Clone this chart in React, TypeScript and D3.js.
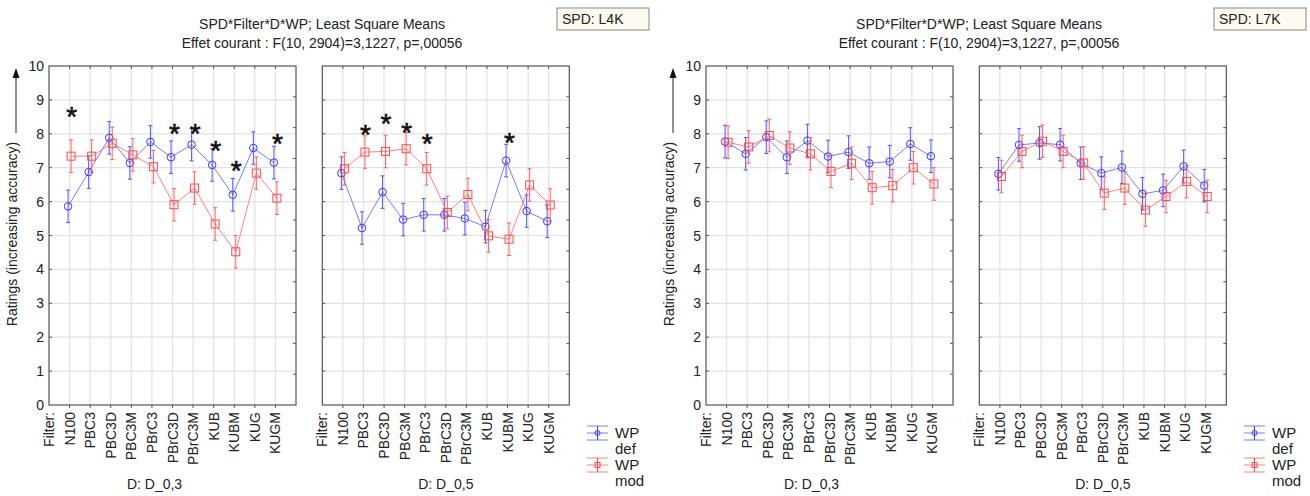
import React from 'react';
import * as d3 from 'd3';

// categories on the x axis
const FILTERS = ['N100', 'PBC3', 'PBC3D', 'PBC3M', 'PBrC3', 'PBrC3D', 'PBrC3M', 'KUB', 'KUBM', 'KUG', 'KUGM'];
const Y_TICKS = [0, 1, 2, 3, 4, 5, 6, 7, 8, 9, 10];

// least square means, SPD: L4K
const L4K_D03_DEF = [5.86, 6.87, 7.88, 7.14, 7.76, 7.31, 7.68, 7.08, 6.2, 7.58, 7.15];
const L4K_D03_MOD = [7.34, 7.34, 7.72, 7.38, 7.03, 5.91, 6.4, 5.34, 4.52, 6.84, 6.1];
const L4K_D05_DEF = [6.84, 5.22, 6.28, 5.47, 5.61, 5.61, 5.5, 5.26, 7.21, 5.72, 5.42];
const L4K_D05_MOD = [6.97, 7.46, 7.48, 7.56, 6.97, 5.68, 6.21, 4.99, 4.89, 6.49, 5.9];

// least square means, SPD: L7K
const L7K_D03_DEF = [7.77, 7.41, 7.9, 7.31, 7.8, 7.33, 7.46, 7.13, 7.18, 7.7, 7.34];
const L7K_D03_MOD = [7.75, 7.61, 7.95, 7.58, 7.41, 6.89, 7.13, 6.41, 6.47, 7.0, 6.52];
const L7K_D05_DEF = [6.82, 7.67, 7.73, 7.68, 7.13, 6.84, 7.01, 6.23, 6.33, 7.04, 6.47];
const L7K_D05_MOD = [6.74, 7.48, 7.78, 7.48, 7.14, 6.25, 6.4, 5.75, 6.15, 6.59, 6.15];

// half-width of the error bars (same for every point)
const ERR = 0.48;

// significance stars: [filter, level]
const L4K_D03_STARS: [string, number][] = [['N100', 8.7], ['PBrC3D', 8.2], ['PBrC3M', 8.2], ['KUB', 7.7], ['KUBM', 7.1], ['KUGM', 7.9]];
const L4K_D05_STARS: [string, number][] = [['PBC3', 8.18], ['PBC3D', 8.49], ['PBC3M', 8.23], ['PBrC3', 7.9], ['KUBM', 7.94]];

const FONT = '"Liberation Sans", Arial, sans-serif';
const FS = 14;
const TOP = 66;
const BOTTOM = 405;
const PW = 247;

const BLUE_LINE = '#7a7aff';
const BLUE = '#3a3aff';
const RED_LINE = '#ff8080';
const RED = '#ff4a4a';

const y = d3.scaleLinear().domain([0, 10]).range([BOTTOM, TOP]);

const Series: React.FC<{ x: d3.ScalePoint<string>; vals: number[]; kind: 'def' | 'mod' }> = ({ x, vals, kind }) => {
  const dx = kind === 'def' ? -1.5 : 1.5;
  const lineColor = kind === 'def' ? BLUE_LINE : RED_LINE;
  const col = kind === 'def' ? BLUE : RED;
  const line = d3.line<number>()
    .x((_, i) => (x(FILTERS[i]) as number) + dx)
    .y(d => y(d));
  return (
    <g>
      <path d={line(vals) || ''} fill="none" stroke={lineColor} strokeWidth={1} />
      {vals.map((v, i) => {
        const cx = (x(FILTERS[i]) as number) + dx;
        return (
          <g key={i}>
            <line x1={cx} x2={cx} y1={y(v + ERR)} y2={y(v - ERR)} stroke={col} strokeWidth={1} opacity={0.85} />
            <line x1={cx - 2} x2={cx + 2} y1={y(v + ERR)} y2={y(v + ERR)} stroke={col} opacity={0.85} />
            <line x1={cx - 2} x2={cx + 2} y1={y(v - ERR)} y2={y(v - ERR)} stroke={col} opacity={0.85} />
            {kind === 'def'
              ? <circle cx={cx} cy={y(v)} r={3.8} fill="none" stroke={col} strokeWidth={1} />
              : <rect x={cx - 4} y={y(v) - 4} width={8} height={8} fill="none" stroke={col} strokeWidth={1} />}
          </g>
        );
      })}
    </g>
  );
};

const Panel: React.FC<{ left: number; def: number[]; mod: number[]; stars: [string, number][]; showY: boolean; dLabel: string; labelShift: number }> =
  ({ left, def, mod, stars, showY, dLabel, labelShift }) => {
    const x = d3.scalePoint<string>().domain(['Filter:', ...FILTERS, '']).range([left, left + PW]);
    const rightTicks = d3.range(1, 11).map(k => TOP + (k * (BOTTOM - TOP)) / 11);
    return (
      <g>
        {/* grid */}
        {Y_TICKS.slice(1, 10).map(t => (
          <line key={'h' + t} x1={left} x2={left + PW} y1={y(t)} y2={y(t)} stroke="#e2e2e2" strokeWidth={1.2} />
        ))}
        {FILTERS.map(f => (
          <line key={'v' + f} x1={x(f)} x2={x(f)} y1={TOP} y2={BOTTOM} stroke="#e2e2e2" strokeWidth={1.2} />
        ))}
        {/* ticks */}
        {FILTERS.map(f => (
          <g key={'t' + f}>
            <line x1={x(f)} x2={x(f)} y1={TOP} y2={TOP + 3} stroke="#555" />
            <line x1={x(f)} x2={x(f)} y1={BOTTOM} y2={BOTTOM + 3} stroke="#555" />
          </g>
        ))}
        {Y_TICKS.slice(1, 10).map(t => (
          <line key={'l' + t} x1={left} x2={left + 3} y1={y(t)} y2={y(t)} stroke="#555" />
        ))}
        {rightTicks.map((ty, k) => (
          <line key={'r' + k} x1={left + PW - 3} x2={left + PW} y1={ty} y2={ty} stroke="#555" />
        ))}
        <rect x={left} y={TOP} width={PW} height={BOTTOM - TOP} fill="none" stroke="#555" strokeWidth={1.2} />
        {showY && Y_TICKS.map(t => (
          <text key={'yl' + t} x={left - 5} y={y(t) + 5} textAnchor="end" fontSize={FS} fontFamily={FONT} fill="#222">{t}</text>
        ))}
        {x.domain().slice(0, 12).map(f => (
          <text key={'xl' + f} transform={`translate(${(x(f) as number) + 5},${BOTTOM + 7}) rotate(-90)`} textAnchor="end"
            fontSize={FS} fontFamily={FONT} fill="#222">{f}</text>
        ))}
        <text x={left + PW / 2 + labelShift} y={489} textAnchor="middle" fontSize={FS} fontFamily={FONT} fill="#222">{dLabel}</text>
        <Series x={x} vals={def} kind="def" />
        <Series x={x} vals={mod} kind="mod" />
        {stars.map(([f, lvl]) => (
          <text key={'s' + f} x={(x(f) as number) + 2} y={y(lvl) + 16} textAnchor="middle" fontSize={28}
            fontFamily={FONT} fill="#111" stroke="#111" strokeWidth={0.6}>*</text>
        ))}
      </g>
    );
  };

const LegendItem: React.FC<{ x: number; y: number; kind: 'def' | 'mod' }> = ({ x, y: cy, kind }) => {
  const lineColor = kind === 'def' ? BLUE_LINE : RED_LINE;
  const col = kind === 'def' ? BLUE : RED;
  const cx = x + 10.5;
  return (
    <g>
      <line x1={x} x2={x + 21} y1={cy - 7} y2={cy - 7} stroke={lineColor} />
      <line x1={x} x2={x + 21} y1={cy} y2={cy} stroke={lineColor} />
      <line x1={x} x2={x + 21} y1={cy + 7} y2={cy + 7} stroke={lineColor} />
      <line x1={cx} x2={cx} y1={cy - 7} y2={cy + 7} stroke={col} />
      {kind === 'def'
        ? <circle cx={cx} cy={cy} r={2.5} fill="none" stroke={col} />
        : <rect x={cx - 2.5} y={cy - 2.5} width={5} height={5} fill="none" stroke={col} />}
      <text x={x + 28} y={cy + 5} fontSize={15} fontFamily={FONT} fill="#222">WP</text>
      <text x={x + 28} y={cy + 21} fontSize={15} fontFamily={FONT} fill="#222">{kind}</text>
    </g>
  );
};

const Figure: React.FC<{ ox: number; spd: string; d03: [number[], number[]]; d05: [number[], number[]]; stars03: [string, number][]; stars05: [string, number][] }> =
  ({ ox, spd, d03, d05, stars03, stars05 }) => (
    <g transform={`translate(${ox},0)`}>
      <text x={322} y={28.5} textAnchor="middle" fontSize={FS} fontFamily={FONT} fill="#222">SPD*Filter*D*WP; Least Square Means</text>
      <text x={322} y={48} textAnchor="middle" fontSize={FS} fontFamily={FONT} fill="#222">Effet courant : F(10, 2904)=3,1227, p=,00056</text>
      <rect x={557} y={8} width={92} height={22} fill="#fffaee" stroke="#888" />
      <text x={562} y={24} fontSize={FS} fontFamily={FONT} fill="#222">{`SPD: ${spd}`}</text>
      <text transform={`translate(17,234) rotate(-90)`} textAnchor="middle" fontSize={FS} fontFamily={FONT} fill="#222">
        Ratings (increasing accuracy)
      </text>
      <line x1={16} x2={16} y1={133} y2={76} stroke="#222" />
      <path d="M16,68 L12.5,78 L19.5,78 Z" fill="#111" />
      <Panel left={49} def={d03[0]} mod={d03[1]} stars={stars03} showY dLabel="D: D_0,3" labelShift={-18} />
      <Panel left={322.3} def={d05[0]} mod={d05[1]} stars={stars05} showY={false} dLabel="D: D_0,5" labelShift={0} />
      <LegendItem x={587} y={433} kind="def" />
      <LegendItem x={587} y={465} kind="mod" />
    </g>
  );

export default function App() {
  return (
    <svg width={1310} height={496} viewBox="0 0 1310 496" style={{ position: 'absolute', left: 0, top: 0, background: '#fff' }}>
      <rect width={1310} height={496} fill="#fff" />
      <Figure ox={0} spd="L4K" d03={[L4K_D03_DEF, L4K_D03_MOD]} d05={[L4K_D05_DEF, L4K_D05_MOD]}
        stars03={L4K_D03_STARS} stars05={L4K_D05_STARS} />
      <Figure ox={657} spd="L7K" d03={[L7K_D03_DEF, L7K_D03_MOD]} d05={[L7K_D05_DEF, L7K_D05_MOD]}
        stars03={[]} stars05={[]} />
    </svg>
  );
}
